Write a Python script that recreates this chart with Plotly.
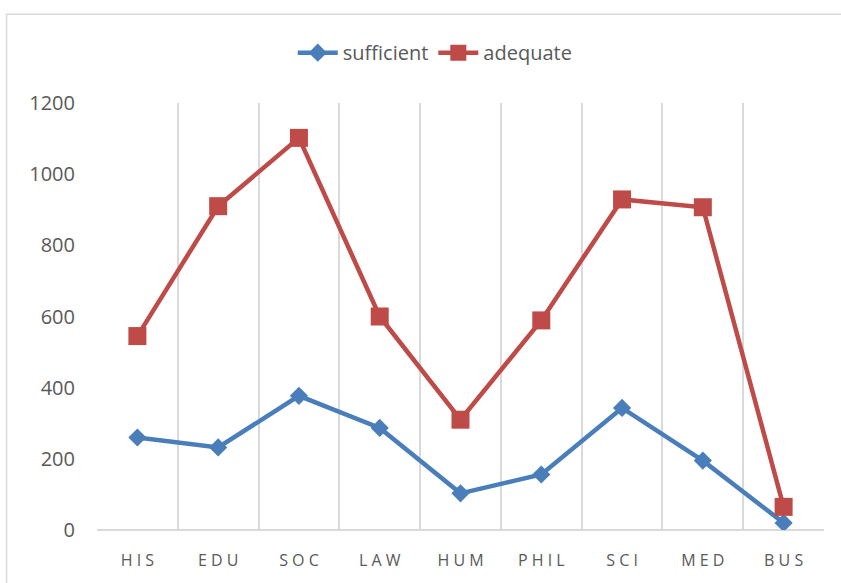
import plotly.graph_objects as go

categories = ["HIS", "EDU", "SOC", "LAW", "HUM", "PHIL", "SCI", "MED", "BUS"]
tick_labels = [" ".join(c) for c in categories]
sufficient = [260, 232, 377, 287, 103, 156, 343, 195, 20]
adequate = [545, 910, 1102, 600, 310, 589, 929, 907, 65]
y_ticks = [0, 200, 400, 600, 800, 1000, 1200]

BLUE = "#4A7EBB"
RED = "#BE4B48"
GRID = "#D9D9D9"
TEXT = "#595959"
FONT = "Open Sans"

fig = go.Figure()
fig.add_trace(go.Scatter(
    x=categories, y=sufficient, name="sufficient", mode="lines+markers",
    line=dict(color=BLUE, width=4.5),
    marker=dict(symbol="diamond", size=14, color=BLUE),
))
fig.add_trace(go.Scatter(
    x=categories, y=adequate, name="adequate", mode="lines+markers",
    line=dict(color=RED, width=4.5),
    marker=dict(symbol="square", size=18, color=RED),
))

L, R, T, B = 96.5, 17, 103, 47.5
W, H = 841, 583
pw, ph = W - L - R, H - T - B

fig.update_layout(
    width=W, height=H,
    margin=dict(l=L, r=R, t=T, b=B, pad=0),
    paper_bgcolor="white", plot_bgcolor="white",
    font=dict(family=FONT, color=TEXT),
    showlegend=True,
    legend=dict(
        orientation="h", x=(435 - L) / pw, y=(H - B - 52) / ph,
        xanchor="center", yanchor="middle",
        font=dict(size=20, color=TEXT, family=FONT),
        itemwidth=40,
    ),
    xaxis=dict(
        type="category", categoryorder="array", categoryarray=categories,
        tickmode="array", tickvals=categories, ticktext=tick_labels,
        tickson="boundaries", showgrid=True, gridcolor=GRID, gridwidth=1.5,
        ticks="", showline=False, zeroline=False,
        tickfont=dict(size=16, color=TEXT, family=FONT),
        ticklabelstandoff=19,
        range=[-0.5, 8.5],
    ),
    yaxis=dict(
        range=[0, 1200], tickmode="array", tickvals=y_ticks,
        showgrid=False, zeroline=True, zerolinecolor=GRID, zerolinewidth=1.5,
        showline=False, ticks="",
        tickfont=dict(size=20, color=TEXT, family=FONT),
        ticklabelstandoff=21,
    ),
    shapes=[dict(
        type="rect", xref="paper", yref="paper",
        x0=(6 - L) / pw, x1=(W + 5 - L) / pw,
        y0=-(B + 10) / ph, y1=(H - B - 13) / ph,
        line=dict(color=GRID, width=1.5), fillcolor="rgba(0,0,0,0)", layer="below",
    )],
)

fig.write_html(
    "out.html",
    config={"displayModeBar": False},
    post_script="document.body.style.margin='0';document.body.style.overflow='hidden';",
)
